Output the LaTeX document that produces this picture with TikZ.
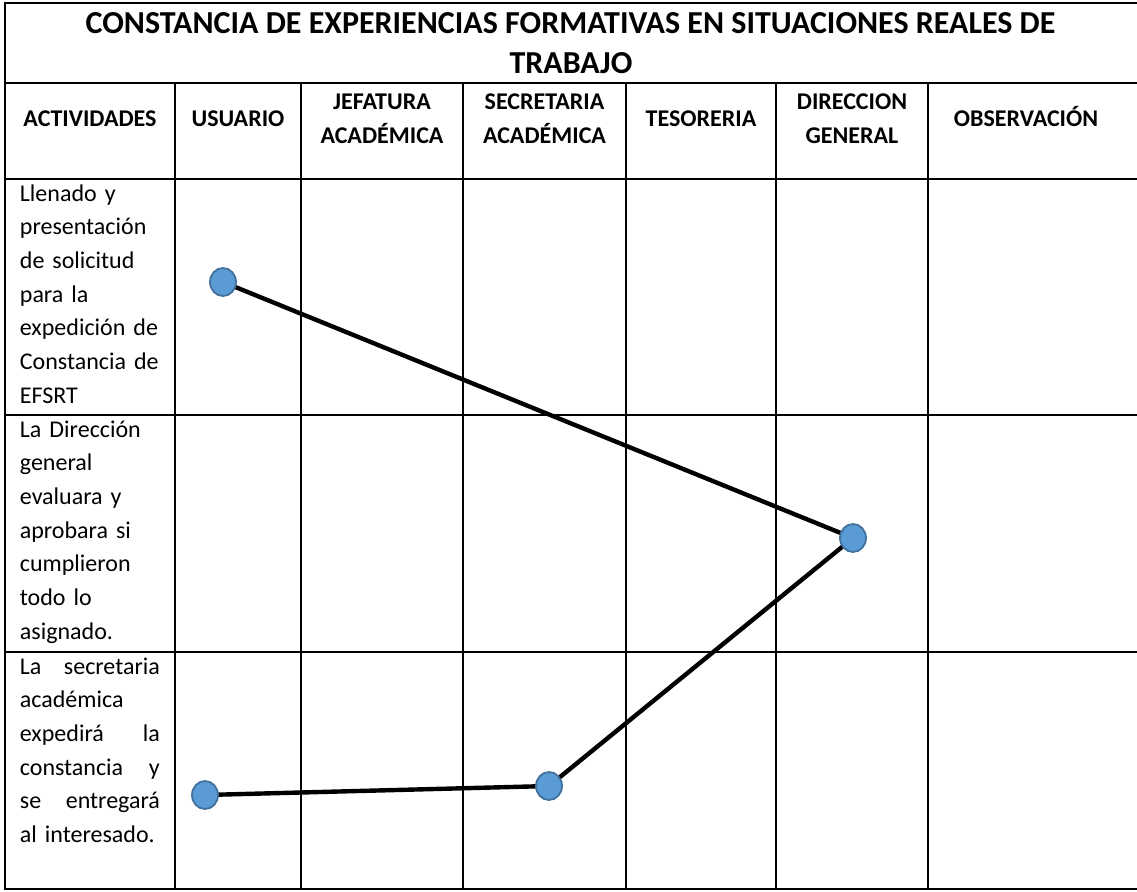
\documentclass[tikz,border=0pt]{standalone}
\usepackage{fontspec}
\setmainfont{Carlito}
\usetikzlibrary{shapes.geometric,backgrounds}
\definecolor{dotfill}{HTML}{5B9BD5}
\definecolor{dotline}{HTML}{41719C}
\newcommand{\jline}[2]{\leavevmode\hbox to 70pt{#1\hfill #2}}
\begin{document}
\begin{tikzpicture}[x=0.5pt,y=-0.5pt,
  hline/.style={line width=1.4pt},
  vline/.style={line width=1pt},
  dot/.style={ellipse, draw=dotline, fill=dotfill, line width=0.9pt, minimum width=13pt, minimum height=14pt, inner sep=0pt},
  link/.style={line width=2.2pt, black},
  ttl/.style={font=\fontsize{16pt}{20pt}\selectfont\bfseries, inner sep=0pt, anchor=base},
  head/.style={font=\fontsize{12pt}{17pt}\selectfont\bfseries, inner sep=0pt, anchor=base},
  body/.style={font=\fontsize{12pt}{16.85pt}\selectfont, inner sep=0pt, anchor=north west, text width=72pt, align=left}]
\useasboundingbox (0,0) rectangle (1137,891);
% table rules
\draw[hline] (4.3,3) -- (1137,3);
\draw[hline] (5,83) -- (1137,83);
\draw[hline] (5,179) -- (1137,179);
\draw[hline] (5,415) -- (1137,415);
\draw[hline] (5,652) -- (1137,652);
\draw[hline] (4.3,889) -- (1137,889);
\draw[hline] (5,3) -- (5,889);
\foreach \cx in {175,301,463,626,776,928}{
  \draw[vline] (\cx,83) -- (\cx,889);
}
% title
\node[ttl] (t1) at (570.5,33) {CONSTANCIA DE EXPERIENCIAS FORMATIVAS EN SITUACIONES REALES DE};
\node[ttl] (t2) at (571,73) {TRABAJO};
% headers
\node[head] (h1) at (90,126) {ACTIVIDADES};
\node[head] (h2) at (238,126) {USUARIO};
\node[head] (h3a) at (382,109) {JEFATURA};
\node[head] (h3b) at (382,143) {ACADÉMICA};
\node[head] (h4a) at (544.5,109) {SECRETARIA};
\node[head] (h4b) at (544.5,143) {ACADÉMICA};
\node[head] (h5) at (701,126) {TESORERIA};
\node[head] (h6a) at (852,109) {DIRECCION};
\node[head] (h6b) at (852,143) {GENERAL};
\node[head] (h7) at (1026,126) {OBSERVACIÓN};
% activities
\node[body] (a1) at (19.5,179) {\rule{0pt}{10.8pt}Llenado y\\presentación\\de solicitud\\para la\\expedición de\\Constancia de\\EFSRT};
\node[body] (a2) at (19.5,415) {\rule{0pt}{10.8pt}La Dirección\\general\\evaluara y\\aprobara si\\cumplieron\\todo lo\\asignado.};
\node[body] (a3) at (19.5,652) {\rule{0pt}{10.8pt}\jline{La}{secretaria}\\académica\\\jline{expedirá}{la}\\\jline{constancia}{y}\\\jline{se}{entregará}\\al interesado.};
% flow dots
\node[dot] (c1) at (223,282) {};
\node[dot] (c2) at (853,538) {};
\node[dot] (c3) at (205,795) {};
\node[dot] (c4) at (549,786) {};
\begin{scope}[on background layer]
\draw[link] (c1.center) -- (c2.center);
\draw[link] (c2.center) -- (c4.center);
\draw[link] (c3.center) -- (c4.center);
\end{scope}
\end{tikzpicture}
\end{document}
